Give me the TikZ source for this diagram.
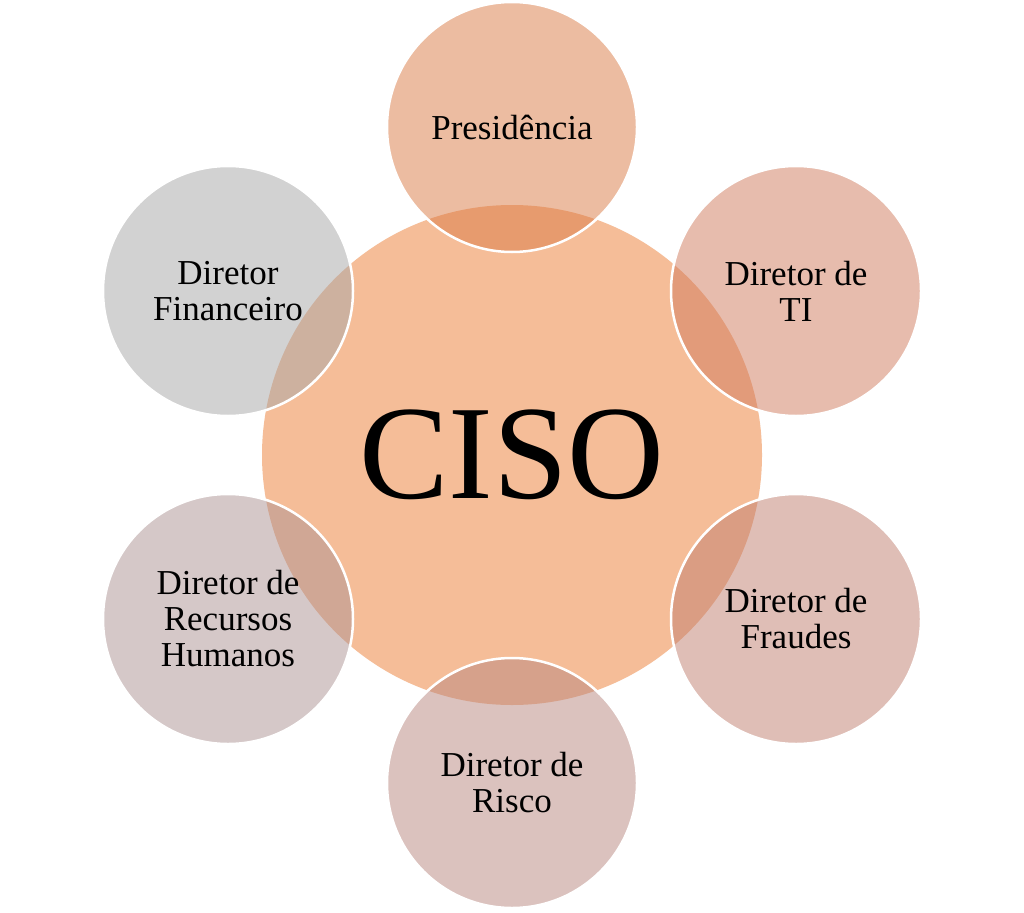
\documentclass[tikz,border=0pt]{standalone}
\usepackage{fontspec}
\setmainfont{Liberation Serif}
\definecolor{centerc}{RGB}{245,189,152}
\definecolor{presc}{RGB}{219,123,69}
\definecolor{tic}{RGB}{209,123,93}
\definecolor{fraudc}{RGB}{193,127,111}
\definecolor{riscoc}{RGB}{185,135,127}
\definecolor{rhc}{RGB}{173,147,147}
\definecolor{finc}{RGB}{167,167,167}
\tikzset{
  hub/.style={circle, minimum size=500pt, inner sep=0pt, fill=centerc, draw=none,
    font=\fontsize{134}{146}\selectfont},
  sat/.style={circle, minimum size=250pt, inner sep=0pt, fill opacity=0.5, text opacity=1,
    draw=white, draw opacity=1, line width=2.5pt, align=center,
    font=\fontsize{35}{36}\selectfont}
}
\begin{document}
\begin{tikzpicture}[x=1pt,y=-1pt]
\useasboundingbox[fill=white] (0,0) rectangle (1024,912);
\node[hub] (ciso) at (512,455) {CISO};
\node[sat, fill=presc] (pres) at (512,127) {Presidência};
\node[sat, fill=tic] (ti) at (796,291) {Diretor de\\TI};
\node[sat, fill=fraudc] (fraud) at (796,619) {Diretor de\\Fraudes};
\node[sat, fill=riscoc] (risco) at (512,783) {Diretor de\\Risco};
\node[sat, fill=rhc] (rh) at (228,619) {Diretor de\\Recursos\\Humanos};
\node[sat, fill=finc] (fin) at (228,291) {Diretor\\Financeiro};
\end{tikzpicture}
\end{document}
